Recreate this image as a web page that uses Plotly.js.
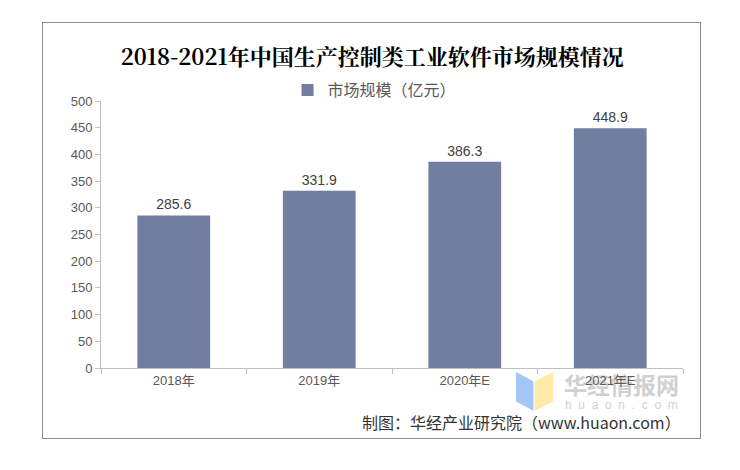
<!DOCTYPE html>
<html>
<head>
<meta charset="utf-8">
<script src="https://cdn.plot.ly/plotly-3.0.1.min.js"></script>
<style>
  body { margin: 0; background: #fff; }
  #wrap { position: relative; width: 740px; height: 470px; }
  #chart { width: 740px; height: 470px; }
  #frame { position: absolute; left: 42px; top: 22px; width: 657px; height: 415px;
           border: 1px solid #8c8c8c; pointer-events: none; }
</style>
</head>
<body>
<div id="wrap">
  <div id="chart"></div>
  <div id="frame"></div>
</div>
<script>
const years = ['2018年', '2019年', '2020年E', '2021年E'];
const marketSize = [285.6, 331.9, 386.3, 448.9];
const seriesName = '市场规模（亿元）';

function drawChart() {
    const chartDiv = document.getElementById('chart');
    const textFont = { family: 'Liberation Sans, Arial, Noto Sans CJK SC, sans-serif', size: 13, color: '#595959' };

    Plotly.newPlot(chartDiv, [
        {
            type: 'bar',
            x: years,
            y: marketSize,
            name: seriesName,
            width: 0.5,
            marker: { color: '#717ea0' },
            text: marketSize.map(v => v.toFixed(1)),
            textposition: 'outside',
            cliponaxis: false,
            textfont: { family: 'Liberation Sans, Arial, sans-serif', size: 14, color: '#404040' },
            showlegend: true
        }
    ], {
        width: 740,
        height: 470,
        title: {
            text: '2018-2021年中国生产控制类工业软件市场规模情况',
            font: { family: 'Noto Serif CJK SC, Noto Sans CJK SC, serif', size: 22, color: '#000', weight: 'bold' },
            x: 0.503, xanchor: 'center', y: 0.878, yanchor: 'middle'
        },
        showlegend: true,
        legend: {
            orientation: 'h', x: 0.47, xanchor: 'center', y: 1.041, yanchor: 'middle',
            font: { family: 'Noto Sans CJK SC, sans-serif', size: 16, color: '#595959' },
            itemwidth: 30
        },
        margin: { l: 101, r: 57, t: 101, b: 102 },
        bargap: 0.5,
        xaxis: {
            type: 'category',
            showline: true, linecolor: '#bfbfbf', linewidth: 1,
            ticks: 'outside', tickson: 'boundaries', ticklen: 5, tickcolor: '#bfbfbf',
            tickfont: { family: 'Liberation Sans, Arial, Noto Sans CJK SC, sans-serif', size: 13, color: '#595959' },
            fixedrange: true
        },
        yaxis: {
            range: [0, 500], dtick: 50,
            showgrid: false, zeroline: false,
            showline: true, linecolor: '#bfbfbf', linewidth: 1,
            ticks: 'outside', ticklen: 5, tickcolor: '#bfbfbf',
            tickfont: textFont,
            fixedrange: true
        },
        annotations: [
            {
                xref: 'paper', yref: 'paper', x: 1.0, y: -0.202, xanchor: 'right', yanchor: 'middle',
                text: '制图：华经产业研究院（www.huaon.com）', showarrow: false,
                font: { family: 'Noto Sans CJK SC, sans-serif', size: 16, color: '#333' }
            },
            {
                xref: 'paper', yref: 'paper', x: 0.895, y: -0.06, xanchor: 'center', yanchor: 'middle',
                text: '<b>华经情报网</b>', showarrow: false, opacity: 0.3,
                font: { family: 'Noto Sans CJK SC, sans-serif', size: 23, color: '#666' }
            },
            {
                xref: 'paper', yref: 'paper', x: 0.895, y: -0.14, xanchor: 'center', yanchor: 'middle',
                text: 'h  u  a  o  n  .  c  o  m', showarrow: false, opacity: 0.3,
                font: { family: 'Liberation Sans, Arial, sans-serif', size: 12, color: '#666' }
            }
        ],
        shapes: [
            {
                type: 'path', xref: 'paper', yref: 'paper',
                path: 'M 0.713 -0.015 L 0.743 -0.05 L 0.743 -0.16 L 0.713 -0.125 Z',
                fillcolor: 'rgba(100,160,240,0.6)', line: { width: 0 }
            },
            {
                type: 'path', xref: 'paper', yref: 'paper',
                path: 'M 0.745 -0.05 L 0.777 -0.015 L 0.777 -0.125 L 0.745 -0.16 Z',
                fillcolor: 'rgba(255,220,110,0.6)', line: { width: 0 }
            }
        ],
        paper_bgcolor: '#fff',
        plot_bgcolor: '#fff'
    }, { displayModeBar: false, staticPlot: true });
}

window.addEventListener('load', drawChart);
</script>
</body>
</html>
